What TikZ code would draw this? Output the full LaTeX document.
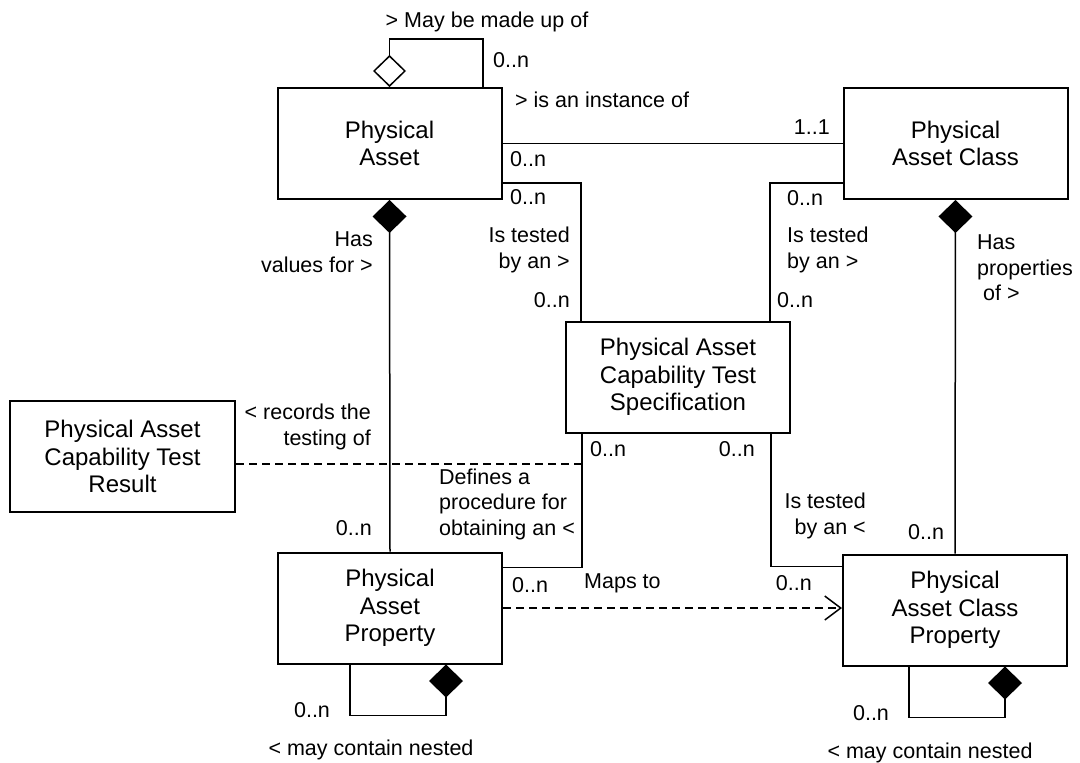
\documentclass[tikz,border=0pt]{standalone}
\usepackage{fontspec}
\setmainfont{Liberation Sans}
\usetikzlibrary{arrows.meta}
\tikzset{
  entity/.style={draw, line width=2pt, minimum width=224pt, minimum height=111pt,
    align=center, inner sep=0pt, font=\fontsize{24}{27.5}\selectfont},
  lbl/.style={inner sep=0pt, font=\fontsize{21.5}{25.5}\selectfont},
  comp/.style={{Diamond[length=33pt,width=34pt]}-},
  aggr/.style={{Diamond[open,length=32pt,width=33pt]}-},
  mapsto/.style={dash pattern=on 8pt off 5pt, -{Straight Barb[length=16pt,width=24pt]}}
}
\begin{document}
\begin{tikzpicture}[x=1pt,y=-1pt]
    \useasboundingbox (0,0) rectangle (1080,763);

    \node[entity] (pa) at (389.5,143.5) {Physical\\Asset};
    \node[entity] (pac) at (955.5,143.5) {Physical\\Asset Class};
    \node[entity] (spec) at (678,377) {Physical Asset\\Capability Test\\Specification};
    \node[entity, minimum width=225pt] (result) at (122.5,456.5) {Physical Asset\\Capability Test\\Result};
    \node[entity] (pap) at (390,608) {Physical\\Asset\\Property};
    \node[entity] (pacp) at (955,610) {Physical\\Asset Class\\Property};

    \node[lbl] (madeup) at (487,22) {> May be made up of};
    \node[lbl, anchor=west] (madeupm) at (493,60) {0..n};
    \node[lbl, anchor=west] (inst) at (515,100) {> is an instance of};
    \node[lbl, anchor=east] (instpac) at (830,127) {1..1};
    \node[lbl, anchor=west] (instpa) at (510,159) {0..n};

    \node[lbl, anchor=west] (testpa) at (510,197) {0..n};
    \node[lbl, anchor=east, align=right] (testl) at (570,250) {Is tested\\by an >};
    \node[lbl, anchor=east] (testspecl) at (570,300) {0..n};
    \node[lbl, anchor=west] (testpac) at (787,198) {0..n};
    \node[lbl, anchor=west, align=left] (testr) at (787,250) {Is tested\\by an >};
    \node[lbl, anchor=west] (testspecr) at (777,300) {0..n};

    \node[lbl, anchor=east, align=right] (hasval) at (373,252) {Has\\values for >};
    \node[lbl, anchor=west, align=left] (hasprop) at (977,268) {Has\\properties\\\ of >};
    \node[lbl, anchor=east] (hasvalm) at (372,528) {0..n};
    \node[lbl, anchor=west] (haspropm) at (908,532) {0..n};

    \node[lbl, anchor=east, align=right] (records) at (371,427) {< records the\\testing of};
    \node[lbl, anchor=west, align=left] (defines) at (439,504) {Defines a\\procedure for\\obtaining an <};
    \node[lbl, anchor=west] (definesm) at (590,449) {0..n};
    \node[lbl, anchor=east] (testedm) at (755,449) {0..n};
    \node[lbl, anchor=east, align=right] (testedby) at (866,516) {Is tested\\by an <};

    \node[lbl, anchor=west] (definespap) at (512,585) {0..n};
    \node[lbl, anchor=west] (maps) at (584,583) {Maps to};
    \node[lbl, anchor=east] (testedpacp) at (812,583) {0..n};

    \node[lbl] (nestpapm) at (312,710) {0..n};
    \node[lbl] (nestpap) at (371,750) {< may contain nested};
    \node[lbl] (nestpacpm) at (871,713) {0..n};
    \node[lbl] (nestpacp) at (930,753) {< may contain nested};

    \coordinate (defjoin) at ([xshift=17pt]spec.south west);

    \begin{scope}[line width=1.5pt]
       \draw[aggr] (pa.north) -- ++(0,-48) -| ([xshift=93.5pt]pa.north);
       \draw (pa) -- (pac);
       \draw ([yshift=-39.5pt]pa.east) -| ([xshift=16pt]spec.north west);
       \draw ([yshift=-39.5pt]pac.west) -| ([xshift=-21pt]spec.north east);
       \draw[comp] (pa.south) -- (pap.north);
       \draw[comp] (pac.south) -- (pacp.north);
       \draw (defjoin) |- ([yshift=-16pt]pap.north east);
       \draw ([xshift=-20pt]spec.south east) |- ([yshift=-13pt]pacp.north west);
       \draw[dash pattern=on 8pt off 5pt] ([yshift=-7.5pt]result.east) -- ([yshift=-7.5pt]result.east -| defjoin);
       \draw[mapsto] (pap.east) -- (pap.east -| pacp.west);
       \draw[comp] ([xshift=56pt]pap.south) -- ++(0,51) -| ([xshift=-40pt]pap.south);
       \draw[comp] ([xshift=50pt]pacp.south) -- ++(0,51) -| ([xshift=-46pt]pacp.south);
    \end{scope}
\end{tikzpicture}
\end{document}
